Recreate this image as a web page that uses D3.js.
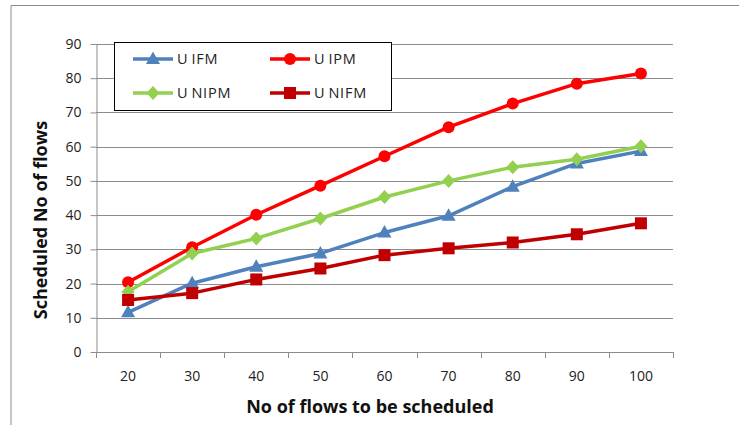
<!DOCTYPE html>
<html><head><meta charset="utf-8">
<script src="https://cdn.jsdelivr.net/npm/d3@7"></script>
<style>body{margin:0;background:#fff}svg{display:block}text{font-family:"Open Sans","Noto Sans",sans-serif}</style>
</head><body><svg id="c" width="739" height="425"></svg>
<script>
const categories = ["20","30","40","50","60","70","80","90","100"];
const yTicks = [0,10,20,30,40,50,60,70,80,90];
const UIFM  = [11.6,20.1,24.9,28.8,34.9,39.8,48.3,55.1,58.7];
const UIPM  = [20.4,30.6,40.1,48.6,57.2,65.7,72.6,78.4,81.4];
const UNIPM = [17.6,28.8,33.2,39.0,45.3,50.0,54.0,56.3,60.1];
const UNIFM = [15.2,17.2,21.2,24.4,28.3,30.3,32.0,34.4,37.6];

const series = [
  {name:"UIFM", values:UIFM, color:"#4F81BD", shape:"tri"},
  {name:"UIPM", values:UIPM, color:"#FF0000", shape:"circ"},
  {name:"UNIPM", values:UNIPM, color:"#92D050", shape:"dia"},
  {name:"UNIFM", values:UNIFM, color:"#C00000", shape:"sq"}
];

const svg = d3.select("#c");
const L=96, R=673, T=44, B=352;
const x = d3.scaleBand().domain(categories).range([L,R]);
const y = d3.scaleLinear().domain([0,90]).range([B,T]);

// outer frame
svg.append("path").attr("d","M11,426V5.5H740").attr("fill","none").attr("stroke","#8c8c8c").attr("stroke-width",1);

// gridlines
svg.append("g").selectAll("line").data(yTicks.filter(d=>d>0)).join("line")
  .attr("x1",L).attr("x2",R).attr("y1",d=>Math.round(y(d))+0.5).attr("y2",d=>Math.round(y(d))+0.5)
  .attr("stroke","#8c8c8c").attr("stroke-width",1);

// y axis
const ya = svg.append("g").attr("transform",`translate(${L+0.5},0)`)
  .call(d3.axisLeft(y).tickValues(yTicks).tickSize(6).tickPadding(9).tickSizeOuter(0));
ya.select(".domain").attr("stroke","#8c8c8c");
ya.selectAll(".tick line").attr("stroke","#8c8c8c");
ya.selectAll("text").attr("font-size",14).attr("fill","#222");

// x axis
const xa = svg.append("g").attr("transform",`translate(0,${B+0.5})`)
  .call(d3.axisBottom(x).tickSize(0).tickPadding(19));
xa.select(".domain").remove();
xa.selectAll("text").attr("font-size",14).attr("fill","#222");
svg.append("line").attr("x1",L).attr("x2",R+0.5).attr("y1",B+0.5).attr("y2",B+0.5).attr("stroke","#8c8c8c");
const bounds = categories.map(c=>x(c)).concat([R]);
svg.append("g").selectAll("line").data(bounds).join("line")
  .attr("x1",d=>Math.round(d)+0.5).attr("x2",d=>Math.round(d)+0.5).attr("y1",B).attr("y2",B+6)
  .attr("stroke","#8c8c8c");

// axis titles
svg.append("text").attr("x",370).attr("y",413).attr("text-anchor","middle")
  .attr("font-size",18).attr("font-weight","bold").attr("fill","#111").text("No of flows to be scheduled");
svg.append("text").attr("transform","translate(47,220) rotate(-90)").attr("text-anchor","middle")
  .attr("font-size",18).attr("font-weight","bold").attr("fill","#111").text("Scheduled No of flows");

function marker(g, shape, color, cx, cy){
  if(shape==="circ") g.append("circle").attr("cx",cx).attr("cy",cy).attr("r",6).attr("fill",color);
  else if(shape==="sq") g.append("rect").attr("x",cx-6).attr("y",cy-6).attr("width",12).attr("height",12).attr("fill",color);
  else if(shape==="tri") g.append("path").attr("d",`M${cx},${cy-7.5}L${cx+7},${cy+5}L${cx-7},${cy+5}Z`).attr("fill",color);
  else g.append("path").attr("d",`M${cx},${cy-7}L${cx+6.5},${cy}L${cx},${cy+7}L${cx-6.5},${cy}Z`).attr("fill",color);
}

const cx = c => x(c)+x.bandwidth()/2;
series.forEach(s=>{
  const g = svg.append("g");
  g.append("path").datum(s.values)
    .attr("d", d3.line().x((d,i)=>cx(categories[i])).y(d=>y(d)))
    .attr("fill","none").attr("stroke",s.color).attr("stroke-width",3.5).attr("stroke-linejoin","round");
  s.values.forEach((v,i)=>marker(g,s.shape,s.color,cx(categories[i]),y(v)));
});

// legend
const lg = svg.append("g");
lg.append("rect").attr("x",114.5).attr("y",42.5).attr("width",277).attr("height",68).attr("fill","#fff").attr("stroke","#000").attr("stroke-width",1);
const pos = [[133,59],[270,59],[133,93],[270,93]];
series.forEach((s,i)=>{
  const [px,py] = pos[i];
  lg.append("line").attr("x1",px).attr("x2",px+40).attr("y1",py).attr("y2",py).attr("stroke",s.color).attr("stroke-width",3.5);
  marker(lg,s.shape,s.color,px+20,py);
  const t = lg.append("text").attr("x",px+44).attr("y",py+5).attr("font-size",14.5).attr("fill","#222").attr("letter-spacing",0.8);
  t.append("tspan").text(s.name.slice(0,1));
  t.append("tspan").attr("dx",3).text(s.name.slice(1));
});
</script></body></html>
